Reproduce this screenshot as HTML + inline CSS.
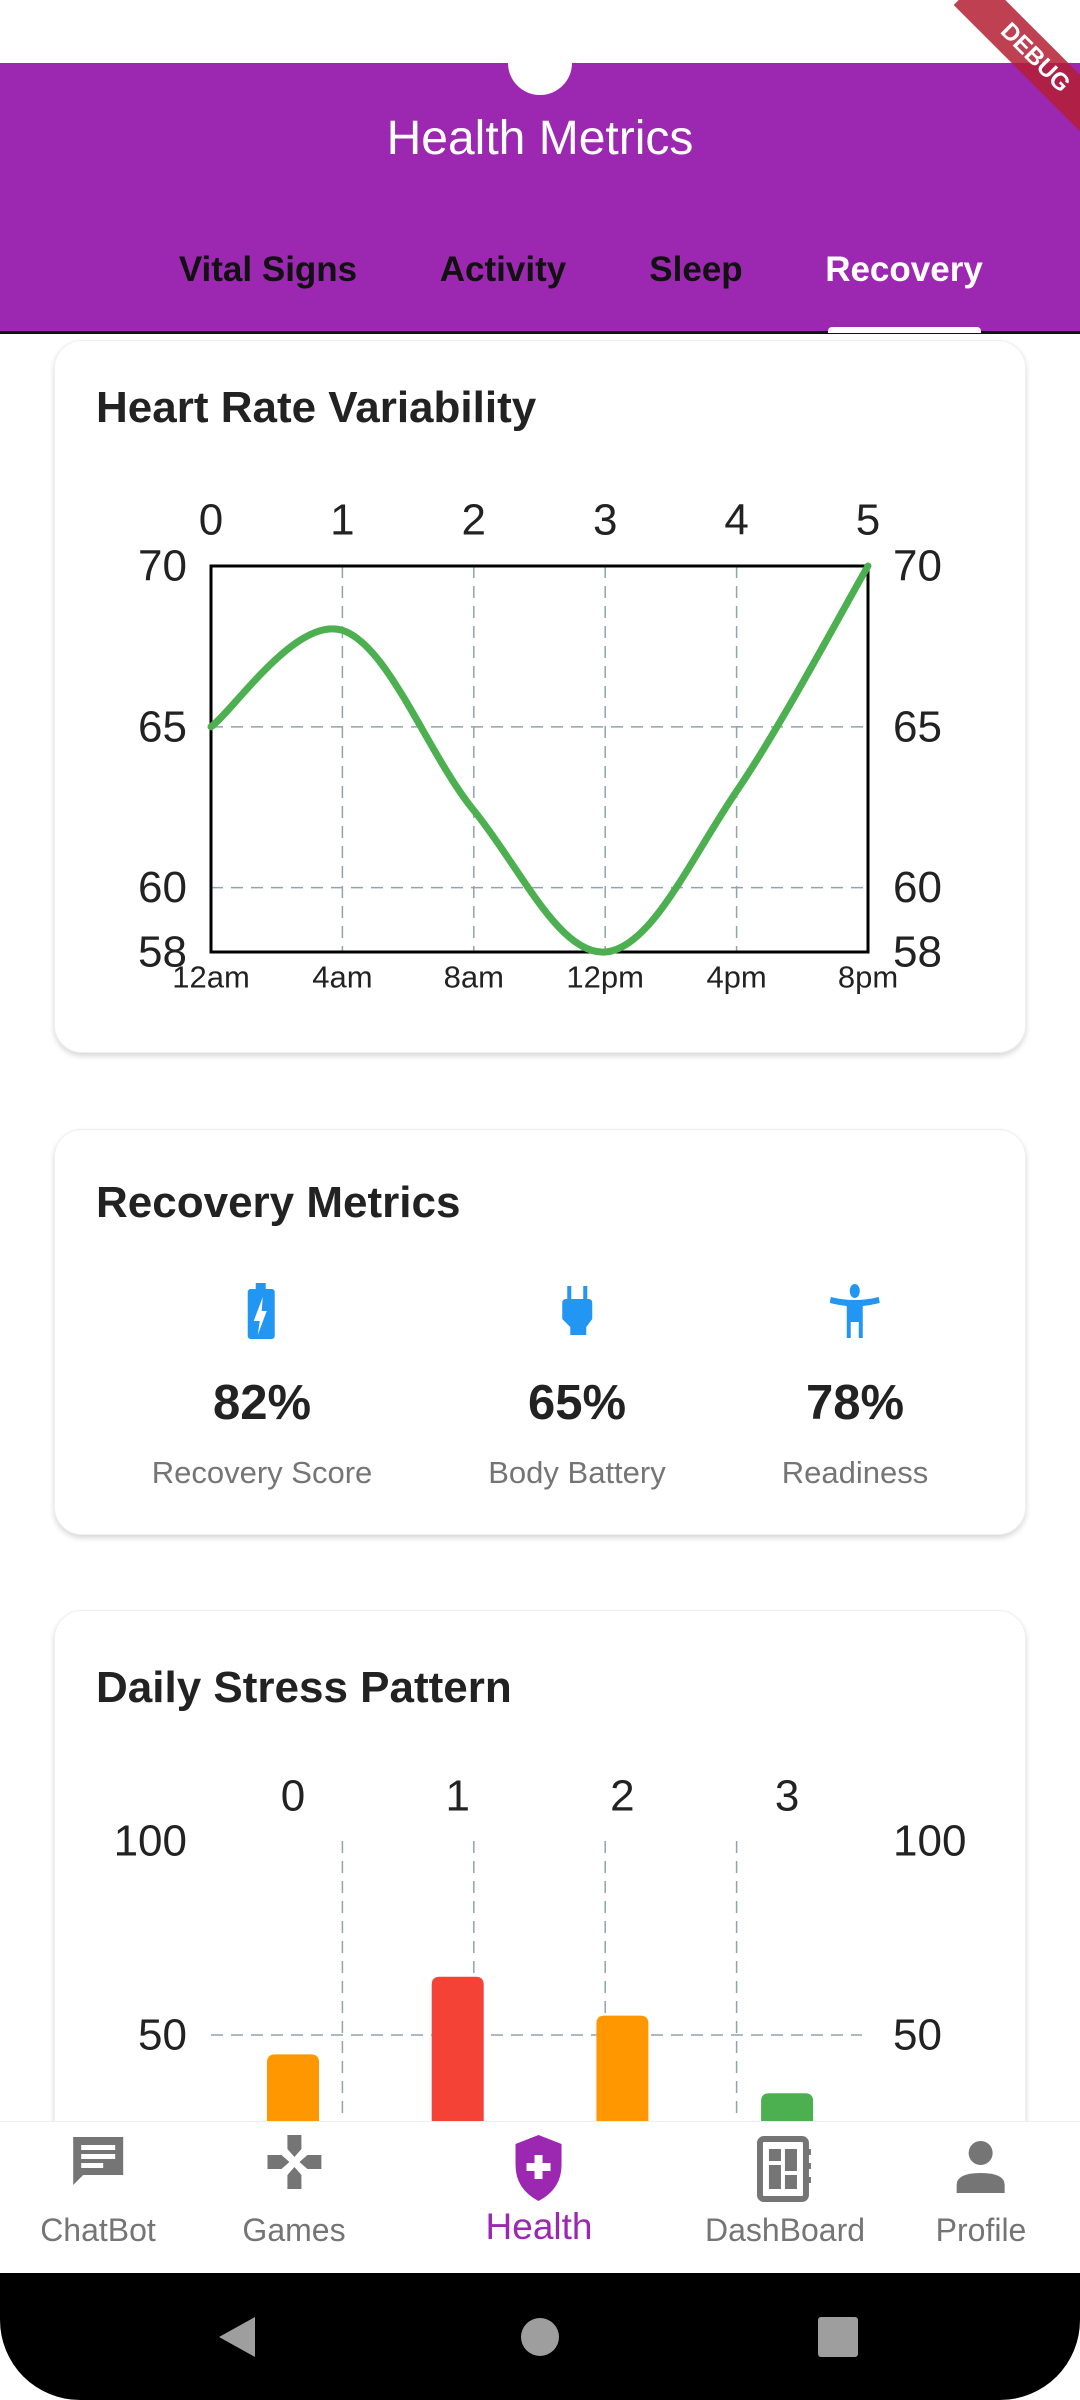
<!DOCTYPE html>
<html><head><meta charset="utf-8">
<style>
html,body{margin:0;padding:0;}
body{width:1080px;height:2400px;position:relative;overflow:hidden;background:#fff;font-family:"Liberation Sans",sans-serif;}
.abs{position:absolute;}
.card{position:absolute;left:54px;width:972px;background:#fff;border-radius:28px;box-shadow:0 3px 6px rgba(0,0,0,0.16);border:1px solid #f0f0f0;box-sizing:border-box;}
.ctitle{position:absolute;left:41px;font-weight:bold;font-size:44px;color:#222;white-space:nowrap;}
.tab{position:absolute;top:187px;font-size:35px;font-weight:bold;transform:translateX(-50%);white-space:nowrap;}
.metric{position:absolute;transform:translateX(-50%);text-align:center;white-space:nowrap;}
.nav-item{position:absolute;top:2135px;transform:translateX(-50%);text-align:center;}
.nav-label{font-size:32px;color:#757575;white-space:nowrap;}
</style></head>
<body>
<div class="abs" style="left:0;top:0;width:1080px;height:63px;background:#fff;"></div>

<div class="card" style="top:340px;height:713px;">
  <div class="ctitle" style="top:42px;">Heart Rate Variability</div>
</div>
<div class="card" style="top:1129px;height:406px;">
  <div class="ctitle" style="top:48px;">Recovery Metrics</div>
</div>
<div class="card" style="top:1610px;height:700px;">
  <div class="ctitle" style="top:52px;">Daily Stress Pattern</div>
</div>

<!-- recovery metrics -->
<div class="metric" style="left:262px;top:1283px;">
  <svg width="30" height="56" viewBox="0 0 30 56"><rect x="9" y="0" width="10" height="6" fill="#2196F3"/><rect x="1" y="6" width="27" height="50" rx="3" fill="#2196F3"/><path d="M16 14 L7 38 L13 38 L11 52 L20 28 L15 28 Z" fill="#fff"/></svg>
  <div style="font-weight:bold;font-size:49px;color:#222;margin-top:31px;">82%</div>
  <div style="font-size:31px;color:#757575;margin-top:24px;">Recovery Score</div>
</div>
<div class="metric" style="left:577px;top:1283px;">
  <svg width="32" height="56" viewBox="0 0 32 56"><rect x="6" y="3" width="4" height="14" fill="#2196F3"/><rect x="22" y="3" width="4" height="14" fill="#2196F3"/><path d="M1 20 Q1 16 5 16 L27 16 Q31 16 31 20 L31 36 L25 44 L25 52 L9 52 L9 44 L1 36 Z" fill="#2196F3"/></svg>
  <div style="font-weight:bold;font-size:49px;color:#222;margin-top:31px;">65%</div>
  <div style="font-size:31px;color:#757575;margin-top:24px;">Body Battery</div>
</div>
<div class="metric" style="left:855px;top:1283px;">
  <svg width="50" height="56" viewBox="0 0 50 56"><ellipse cx="25" cy="8" rx="5" ry="7" fill="#2196F3"/><path d="M1 14 Q25 20 49 14 L50 20 Q42 22 33 23 L33 55 L29 55 L29 39 L21 39 L21 55 L17 55 L17 23 Q8 22 0 20 Z" fill="#2196F3"/></svg>
  <div style="font-weight:bold;font-size:49px;color:#222;margin-top:31px;">78%</div>
  <div style="font-size:31px;color:#757575;margin-top:24px;">Readiness</div>
</div>

<svg id="charts" class="abs" style="left:0;top:0;" width="1080" height="2400"></svg>

<!-- app bar -->
<div class="abs" style="left:0;top:63px;width:1080px;height:268px;background:#9C27B0;border-bottom:3px solid #111;">
  <div class="abs" style="left:508px;top:-22px;width:64px;height:54px;border-radius:0 0 32px 32px;background:#fff;"></div>
  <div class="abs" style="left:0;width:1080px;top:48px;text-align:center;font-size:48px;color:#fff;">Health Metrics</div>
  <div class="tab" style="left:268px;color:#111;">Vital Signs</div>
  <div class="tab" style="left:503px;color:#111;">Activity</div>
  <div class="tab" style="left:696px;color:#111;">Sleep</div>
  <div class="tab" style="left:904px;color:#fff;">Recovery</div>
  <div class="abs" style="left:828px;top:264px;width:153px;height:6px;background:#fff;border-radius:4px 4px 0 0;"></div>
</div>

<div class="abs" style="left:940px;top:38px;width:190px;height:40px;background:rgba(180,30,50,0.85);transform:rotate(45deg);color:#fff;font-weight:bold;font-size:24px;text-align:center;line-height:40px;">DEBUG</div>

<!-- bottom nav -->
<div class="abs" style="left:0;top:2121px;width:1080px;height:152px;background:#fff;border-top:1px solid #eee;"></div>
<div class="nav-item" style="left:98px;">
  <svg width="54" height="72" viewBox="0 0 54 72"><path d="M2 2 L52 2 L52 40 L12 40 L2 50 Z" fill="#757575"/><rect x="10" y="10" width="34" height="5" fill="#fff"/><rect x="10" y="19" width="34" height="5" fill="#fff"/><rect x="10" y="28" width="22" height="5" fill="#fff"/></svg>
  <div class="nav-label" style="margin-top:0px;">ChatBot</div>
</div>
<div class="nav-item" style="left:294px;">
  <svg width="54" height="72" viewBox="0 0 54 72"><path d="M20 0 L34 0 L34 14 L27 22 L20 14 Z M0 20 L14 20 L22 27 L14 34 L0 34 Z M54 20 L40 20 L32 27 L40 34 L54 34 Z M20 54 L20 40 L27 32 L34 40 L34 54 Z" fill="#757575"/></svg>
  <div class="nav-label" style="margin-top:0px;">Games</div>
</div>
<div class="nav-item" style="left:539px;">
  <svg width="54" height="72" viewBox="0 0 54 72"><path d="M27 0 L50 9 L50 30 Q50 54 27 66 Q4 54 4 30 L4 9 Z" fill="#9C27B0"/><rect x="23" y="20" width="8" height="24" fill="#fff"/><rect x="15" y="28" width="24" height="8" fill="#fff"/></svg>
  <div style="font-size:37px;color:#9C27B0;margin-top:-6px;">Health</div>
</div>
<div class="nav-item" style="left:785px;">
  <svg width="56" height="72" viewBox="0 0 56 72"><rect x="3" y="4" width="46" height="60" rx="4" fill="none" stroke="#757575" stroke-width="6"/><rect x="12" y="14" width="12" height="12" fill="#757575"/><rect x="28" y="14" width="12" height="22" fill="#757575"/><rect x="12" y="30" width="12" height="24" fill="#757575"/><rect x="28" y="40" width="12" height="14" fill="#757575"/><rect x="50" y="14" width="4" height="6" fill="#757575"/><rect x="50" y="28" width="4" height="6" fill="#757575"/><rect x="50" y="42" width="4" height="6" fill="#757575"/></svg>
  <div class="nav-label" style="margin-top:0px;">DashBoard</div>
</div>
<div class="nav-item" style="left:981px;">
  <svg width="54" height="72" viewBox="0 0 54 72"><circle cx="27" cy="18" r="12" fill="#757575"/><path d="M3 58 L3 50 Q3 38 27 38 Q51 38 51 50 L51 58 Z" fill="#757575"/></svg>
  <div class="nav-label" style="margin-top:0px;">Profile</div>
</div>

<!-- android nav -->
<div class="abs" style="left:0;top:2273px;width:1080px;height:127px;background:#000;border-radius:0 0 80px 80px;"></div>
<div class="abs" style="left:219px;top:2317px;width:0;height:0;border-top:20px solid transparent;border-bottom:20px solid transparent;border-right:36px solid #9E9E9E;"></div>
<div class="abs" style="left:521px;top:2318px;width:38px;height:38px;border-radius:50%;background:#9E9E9E;"></div>
<div class="abs" style="left:818px;top:2317px;width:40px;height:40px;border-radius:3px;background:#9E9E9E;"></div>

<script>
// HRV chart data
const hrvX = [0, 1, 2, 3, 4, 5];
const hrvValues = [65, 68, 62.4, 58, 63, 70];
const hrvTopTicks = ['0','1','2','3','4','5'];
const hrvBottomTicks = ['12am','4am','8am','12pm','4pm','8pm'];
const hrvYTicks = [58, 60, 65, 70];
// stress chart data
const stressCats = ['0','1','2','3'];
const stressValues = [45, 65, 55, 35];
const stressColors = ['#FF9800','#F44336','#FF9800','#4CAF50'];
const stressYTicks = [50, 100];

const NS = 'http://www.w3.org/2000/svg';
const svg = document.getElementById('charts');
function mk(tag, attrs, parent) {
  const e = document.createElementNS(NS, tag);
  for (const k in attrs) e.setAttribute(k, attrs[k]);
  (parent || svg).appendChild(e);
  return e;
}
function txt(x, y, s, size, anchor) {
  const t = mk('text', {x: x, y: y, 'font-size': size, 'text-anchor': anchor, 'dominant-baseline': 'central', fill: '#222', 'font-family': 'Liberation Sans, sans-serif'});
  t.textContent = s;
  return t;
}

// ---- HRV line chart ----
const L = 211, R = 868, T = 566, B = 952, yMin = 58, yMax = 70;
const hx = v => L + (v - hrvX[0]) / (hrvX[hrvX.length-1] - hrvX[0]) * (R - L);
const hy = v => B - (v - yMin) / (yMax - yMin) * (B - T);

hrvX.forEach((v, i) => {
  if (i > 0 && i < hrvX.length - 1) {
    const g = mk('line', {x1: hx(v), x2: hx(v), y1: T, y2: B, stroke: '#90A4AE', 'stroke-width': 1.5, 'stroke-dasharray': '12 8'});
    
    
  }
  const t1 = txt(hx(v), 520, hrvTopTicks[i], 44, 'middle');
  
  
  const t2 = txt(hx(v), 977, hrvBottomTicks[i], 31, 'middle');
  
  
});
hrvYTicks.forEach(v => {
  if (v > yMin && v < yMax) {
    const g = mk('line', {x1: L, x2: R, y1: hy(v), y2: hy(v), stroke: '#90A4AE', 'stroke-width': 1.5, 'stroke-dasharray': '12 8'});
    
    
  }
  const a = txt(187, hy(v), String(v), 44, 'end');
  
  
  const b = txt(893, hy(v), String(v), 44, 'start');
  
  
});
const border = mk('rect', {x: L, y: T, width: R - L, height: B - T, fill: 'none', stroke: '#000', 'stroke-width': 3});



const pts = hrvX.map((v, i) => [hx(v), hy(hrvValues[i])]);
const sm = 0.35;
let d = 'M' + pts[0][0] + ' ' + pts[0][1];
for (let i = 1; i < pts.length; i++) {
  const p0 = pts[i-2] || pts[i-1], p1 = pts[i-1], p2 = pts[i], p3 = pts[i+1] || pts[i];
  const c1x = p1[0] + (p2[0] - p0[0]) * sm / 2;
  const c1y = p1[1] + (p2[1] - p0[1]) * sm / 2;
  const c2x = p2[0] - (p3[0] - p1[0]) * sm / 2;
  const c2y = p2[1] - (p3[1] - p1[1]) * sm / 2;
  d += ' C' + c1x + ' ' + c1y + ' ' + c2x + ' ' + c2y + ' ' + p2[0] + ' ' + p2[1];
}
const line = mk('path', {d: d, fill: 'none', stroke: '#4CAF50', 'stroke-width': 7, 'stroke-linecap': 'round'});



// ---- Stress bar chart ----
const sL = 211, sR = 868, sT = 1841, sB = 2229, sMax = 100;
const sy = v => sB - v / sMax * (sB - sT);
for (let i = 1; i < stressCats.length + 1; i++) {
  const gx = sL + (sR - sL) * i / 5;
  const g = mk('line', {x1: gx, x2: gx, y1: sT, y2: sB, stroke: '#90A4AE', 'stroke-width': 1.5, 'stroke-dasharray': '12 8'});
  
  
}
stressYTicks.forEach(v => {
  if (v < sMax) {
    const g = mk('line', {x1: sL, x2: sR - 6, y1: sy(v), y2: sy(v), stroke: '#90A4AE', 'stroke-width': 1.5, 'stroke-dasharray': '12 8'});
    
    
  }
  const a = txt(187, sy(v), String(v), 44, 'end');
  
  
  const b = txt(893, sy(v), String(v), 44, 'start');
  
  
});
stressCats.forEach((c, i) => {
  const cx = 293 + i * 164.7;
  const t = txt(cx, 1796, c, 44, 'middle');
  
  
  const top = sy(stressValues[i]);
  const bar = mk('path', {d: 'M' + (cx-26) + ' ' + sB + ' L' + (cx-26) + ' ' + (top+8) + ' Q' + (cx-26) + ' ' + top + ' ' + (cx-18) + ' ' + top + ' L' + (cx+18) + ' ' + top + ' Q' + (cx+26) + ' ' + top + ' ' + (cx+26) + ' ' + (top+8) + ' L' + (cx+26) + ' ' + sB + ' Z', fill: stressColors[i]});
  
  
});
</script>
</body></html>
